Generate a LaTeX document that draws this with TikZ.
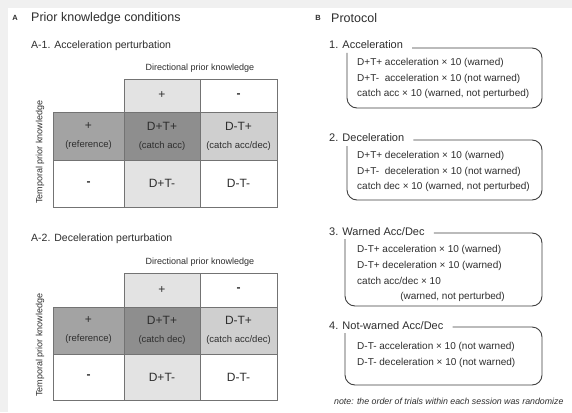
\documentclass[tikz,border=0pt]{standalone}
\usepackage{fontspec}
\setmainfont{Liberation Sans}
\usetikzlibrary{positioning}

\definecolor{ink}{HTML}{2E2E2E}
\definecolor{cellD}{HTML}{E3E3E3}
\definecolor{cellT}{HTML}{A3A3A3}
\definecolor{cellDT}{HTML}{8E8E8E}
\definecolor{cellDmT}{HTML}{CFCFCF}

\begin{document}
\begin{tikzpicture}[x=1pt,y=-1pt]
\tikzstyle{every node}+=[inner sep=0pt, text=ink]
\tikzstyle{cell}=[draw=black!55, line width=0.6pt, align=center, font=\fontsize{12}{18}\selectfont]
\tikzstyle{axislabel}=[font=\fontsize{9}{11}\selectfont]
\tikzstyle{heading}=[anchor=west, font=\fontsize{10.5}{12}\selectfont]
\tikzstyle{panel}=[font=\bfseries\fontsize{7.5}{9}\selectfont]
\tikzstyle{session}=[anchor=west, font=\fontsize{11}{13}\selectfont]
\tikzstyle{protobox}=[draw=black!75, line width=0.9pt, rounded corners=10pt]
\tikzstyle{trial}=[anchor=west, font=\fontsize{10}{12}\selectfont]

\fill[black!6] (0,0) rectangle (572,412);
\fill[white] (8,8) rectangle (572,412);
\useasboundingbox (0,0) rectangle (572,412);

% A: prior knowledge conditions
\node[panel] (labA) at (15,18) {A};
\node[anchor=west, font=\fontsize{12.5}{15}\selectfont] (titA) at (31,18) {Prior knowledge conditions};

\node[heading] (accHead) at (31,46) {A-1. Acceleration perturbation};
\node[axislabel] (accDir) at (200,68) {Directional prior knowledge};
\node[axislabel, rotate=90] (accTemp) at (40,152) {Temporal prior knowledge};
\node[cell, fill=cellD, minimum width=76, minimum height=33] (accDp) at (162,95.5) {+};
\node[cell, fill=white, minimum width=77, minimum height=33] (accDm) at (238.5,95.5) {\textbf{-}};
\node[cell, fill=cellT, minimum width=71, minimum height=48] (accTp) at (88.5,136) {+\\{\fontsize{9.5}{11}\selectfont (reference)}};
\node[cell, fill=cellDT, minimum width=76, minimum height=48] (accDpTp) at (162,136) {D+T+\\{\fontsize{9.5}{11}\selectfont (catch acc)}};
\node[cell, fill=cellDmT, minimum width=77, minimum height=48] (accDmTp) at (238.5,136) {D-T+\\{\fontsize{9.5}{11}\selectfont (catch acc/dec)}};
\node[cell, fill=white, minimum width=71, minimum height=47] (accTm) at (88.5,183.5) {\textbf{-}};
\node[cell, fill=cellD, minimum width=76, minimum height=47] (accDpTm) at (162,183.5) {D+T-};
\node[cell, fill=white, minimum width=77, minimum height=47] (accDmTm) at (238.5,183.5) {D-T-};

\node[heading] (decHead) at (31,239) {A-2. Deceleration perturbation};
\node[axislabel] (decDir) at (200,262) {Directional prior knowledge};
\node[axislabel, rotate=90] (decTemp) at (40,345) {Temporal prior knowledge};
\node[cell, fill=cellD, minimum width=76, minimum height=34] (decDp) at (162,290) {+};
\node[cell, fill=white, minimum width=77, minimum height=34] (decDm) at (238.5,290) {\textbf{-}};
\node[cell, fill=cellT, minimum width=71, minimum height=47] (decTp) at (88.5,330.5) {+\\{\fontsize{9.5}{11}\selectfont (reference)}};
\node[cell, fill=cellDT, minimum width=76, minimum height=47] (decDpTp) at (162,330.5) {D+T+\\{\fontsize{9.5}{11}\selectfont (catch dec)}};
\node[cell, fill=cellDmT, minimum width=77, minimum height=47] (decDmTp) at (238.5,330.5) {D-T+\\{\fontsize{9.5}{11}\selectfont (catch acc/dec)}};
\node[cell, fill=white, minimum width=71, minimum height=46] (decTm) at (88.5,377) {\textbf{-}};
\node[cell, fill=cellD, minimum width=76, minimum height=46] (decDpTm) at (162,377) {D+T-};
\node[cell, fill=white, minimum width=77, minimum height=46] (decDmTm) at (238.5,377) {D-T-};

% B: protocol
\node[panel] (labB) at (318,18) {B};
\node[anchor=west, font=\fontsize{12.5}{15}\selectfont] (titB) at (331,18) {Protocol};

\node[session] (sesAcc) at (329,45) {1. Acceleration};
\coordinate (sesAccEnd) at ([xshift=9pt]sesAcc.east);
\draw[protobox] (sesAccEnd |- 0,48) -- (542,48) -- (542,108) -- (347,108) -- (347,53);
\node[trial] (acc1) at (357,63) {D+T+ acceleration × 10 (warned)};
\node[trial] (acc2) at (357,79) {D+T-\hspace{3pt} acceleration × 10 (not warned)};
\node[trial] (acc3) at (357,94) {catch acc × 10 (warned, not perturbed)};

\node[session] (sesDec) at (329,138) {2. Deceleration};
\coordinate (sesDecEnd) at ([xshift=9pt]sesDec.east);
\draw[protobox] (sesDecEnd |- 0,140) -- (542,140) -- (542,200) -- (347,200) -- (347,146);
\node[trial] (dec1) at (357,156) {D+T+ deceleration × 10 (warned)};
\node[trial] (dec2) at (357,172) {D+T-\hspace{3pt} deceleration × 10 (not warned)};
\node[trial] (dec3) at (357,187) {catch dec × 10 (warned, not perturbed)};

\node[session] (sesWarn) at (329,232) {3. Warned Acc/Dec};
\coordinate (sesWarnEnd) at ([xshift=9pt]sesWarn.east);
\draw[protobox] (sesWarnEnd |- 0,233) -- (542,233) -- (542,306) -- (345,306) -- (345,239);
\node[trial] (warn1) at (357,250) {D-T+ acceleration × 10 (warned)};
\node[trial] (warn2) at (357,266) {D-T+ deceleration × 10 (warned)};
\node[trial] (warn3) at (357,281) {catch acc/dec × 10};
\node[trial, anchor=east] (warn4) at (505,297) {(warned, not perturbed)};

\node[session] (sesNot) at (329,326) {4. Not-warned Acc/Dec};
\coordinate (sesNotEnd) at ([xshift=9pt]sesNot.east);
\draw[protobox] (sesNotEnd |- 0,327) -- (542,327) -- (542,385) -- (345,385) -- (345,333);
\node[trial] (not1) at (357,347) {D-T- acceleration × 10 (not warned)};
\node[trial] (not2) at (357,363) {D-T- deceleration × 10 (not warned)};

\node[anchor=west, font=\itshape\fontsize{8.8}{11}\selectfont] (note) at (334,401) {note: the order of trials within each session was randomize};
\end{tikzpicture}
\end{document}
